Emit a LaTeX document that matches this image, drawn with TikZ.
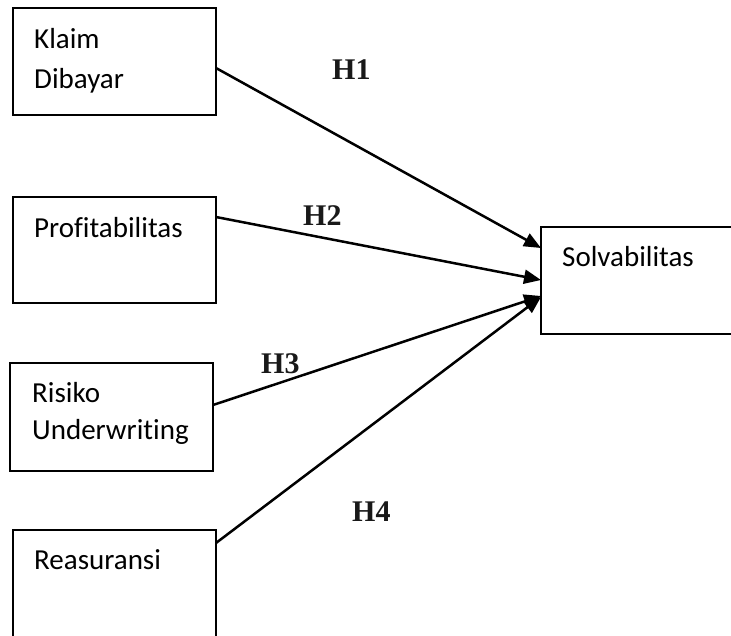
\documentclass[tikz,border=0pt]{standalone}
\usepackage{fontspec}
\setmainfont{Carlito}[RawFeature={-liga;-clig;-dlig}]
\newfontfamily\hfont{Liberation Serif}
\usetikzlibrary{arrows.meta}
\begin{document}
\begin{tikzpicture}[x=1pt,y=-1pt,
  box/.style={draw=black, line width=2pt, rectangle, inner sep=0pt, outer sep=0pt},
  lbl/.style={anchor=base west, inner sep=0pt, font=\fontsize{29}{35}\selectfont},
  hyp/.style={anchor=base west, inner sep=0pt, font=\hfont\bfseries\fontsize{30}{36}\selectfont, text=black!90},
  conn/.style={line width=2.5pt, -{Triangle[length=17pt,width=14pt]}}]
\useasboundingbox (0,0) rectangle (731,635);
\clip (0,0) rectangle (731,635);
\fill[white] (0,0) rectangle (731,635);
% boxes
\node[box, minimum width=203pt, minimum height=107pt] (b1) at (114.5,61.5) {};
\node[box, minimum width=203pt, minimum height=106pt] (b2) at (114.5,250) {};
\node[box, minimum width=203pt, minimum height=108pt] (b3) at (111.5,417) {};
\node[box, minimum width=203pt, minimum height=130pt] (b4) at (114.5,595) {};
\node[box, minimum width=220pt, minimum height=107pt] (s) at (651,280.5) {};
% texts
\node[lbl] (t1a) at (34,48) {Klaim};
\node[lbl] (t1b) at (34,88) {Dibayar};
\node[lbl] (t2) at (34,237) {Profitabilitas};
\node[lbl] (t3a) at (32,402) {Risiko};
\node[lbl] (t3b) at (32,439) {Underwriting};
\node[lbl] (t4) at (34,569) {Reasuransi};
\node[lbl] (ts) at (562,266) {Solvabilitas};
% hypothesis labels
\node[hyp] (h1) at (332,79) {H1};
\node[hyp] (h2) at (303,225) {H2};
\node[hyp] (h3) at (261,373) {H3};
\node[hyp] (h4) at (352,521) {H4};
% connector ends
\coordinate (a1) at (216,68);
\coordinate (a2) at (216,217);
\coordinate (a3) at (213,405);
\coordinate (a4) at (216,543);
\coordinate (e1) at (541,248);
\coordinate (e2) at (541,280);
\coordinate (e3) at (541,296);
\coordinate (e4) at (541,297);
\draw[conn] (a1) -- (e1);
\draw[conn] (a2) -- (e2);
\draw[conn] (a3) -- (e3);
\draw[conn] (a4) -- (e4);
\end{tikzpicture}
\end{document}
